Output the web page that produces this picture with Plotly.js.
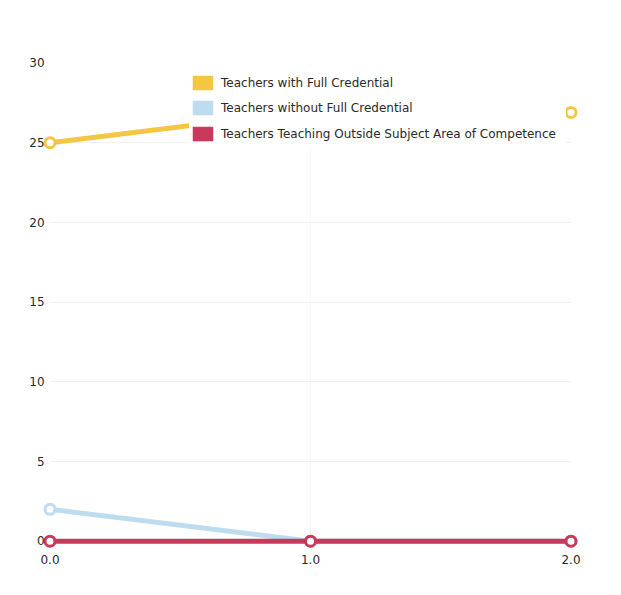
<!DOCTYPE html>
<html>
<head>
<meta charset="utf-8">
<script src="https://cdn.plot.ly/plotly-3.0.1.min.js"></script>
<style>
  html, body { margin: 0; padding: 0; background: #fff; }
  #chart { width: 621px; height: 595px; }
</style>
</head>
<body>
<div id="chart"></div>
<script>
// Staffing series by year index
const years = [0, 1, 2];
const fullCredential = [25, 27, 26.9];
const withoutCredential = [2, 0, 0];
const outsideSubject = [0, 0, 0];

const seriesNames = [
  'Teachers with Full Credential',
  'Teachers without Full Credential',
  'Teachers Teaching Outside Subject Area of Competence'
];
const seriesColors = ['#f3c743', '#bddcf0', '#c83a5b'];
const yTicks = [0, 5, 10, 15, 20, 25, 30];
const xTicks = [0, 1, 2];
const xTickText = ['0.0', '1.0', '2.0'];

const FONT = 'DejaVu Sans, Verdana, sans-serif';
const TEXT = '#2a2a2a';

function lineTrace(y, i) {
  return {
    x: years, y: y, type: 'scatter', mode: 'lines+markers',
    name: seriesNames[i], showlegend: false, cliponaxis: false,
    line: { color: seriesColors[i], width: 5 },
    marker: { size: 10, color: '#ffffff', line: { color: seriesColors[i], width: 3 } },
    hoverinfo: 'x+y'
  };
}

const data = [
  lineTrace(fullCredential, 0),
  lineTrace(withoutCredential, 1),
  lineTrace(outsideSubject, 2)
];

// Plot frame: value 0 sits at y=541px and 30 at 63px; a little room below 0
// keeps the full width of the zero lines visible.
const Y_MIN = -0.3, Y_MAX = 30;
const L = 50, R = 571, T = 63;
const unitPx = (541 - T) / Y_MAX;
const B = 541 - Y_MIN * unitPx;
const px = v => (v - L) / (R - L);
const py = v => (B - v) / (B - T);

// Boxed legend drawn over the lines
const shapes = [{
  type: 'rect', xref: 'paper', yref: 'paper', layer: 'above',
  x0: px(189), x1: px(566), y0: py(147), y1: py(69),
  fillcolor: '#ffffff', line: { width: 0 }
}];
const annotations = [];
const rowsY = [83, 108, 134];
seriesNames.forEach((name, i) => {
  shapes.push({
    type: 'rect', xref: 'paper', yref: 'paper', layer: 'above',
    x0: px(193), x1: px(213), y0: py(rowsY[i] + 7), y1: py(rowsY[i] - 7),
    fillcolor: seriesColors[i], line: { color: seriesColors[i], width: 0.5 }
  });
  annotations.push({
    xref: 'paper', yref: 'paper', x: px(218), y: py(rowsY[i]),
    xanchor: 'left', yanchor: 'middle', showarrow: false,
    text: name, font: { family: FONT, size: 12, color: TEXT }
  });
});

const layout = {
  width: 621, height: 595,
  margin: { l: L, r: 621 - R, t: T, b: 595 - B, pad: 0 },
  paper_bgcolor: '#ffffff', plot_bgcolor: '#ffffff',
  showlegend: false,
  font: { family: FONT, size: 12, color: TEXT },
  xaxis: {
    range: [0, 2], tickvals: xTicks, ticktext: xTickText,
    showgrid: true, gridcolor: '#f8f8f8', zeroline: false, showline: false,
    ticks: 'outside', ticklen: 3, tickcolor: 'rgba(0,0,0,0)',
    tickfont: { family: FONT, size: 12, color: TEXT }
  },
  yaxis: {
    range: [Y_MIN, Y_MAX], tickvals: yTicks,
    showgrid: true, gridcolor: '#f0f0f0', zeroline: false, showline: false,
    ticks: 'outside', ticklen: 2, tickcolor: 'rgba(0,0,0,0)',
    tickfont: { family: FONT, size: 12, color: TEXT }
  },
  shapes: shapes,
  annotations: annotations
};

Plotly.newPlot('chart', data, layout, { displayModeBar: false, staticPlot: true });
</script>
</body>
</html>
